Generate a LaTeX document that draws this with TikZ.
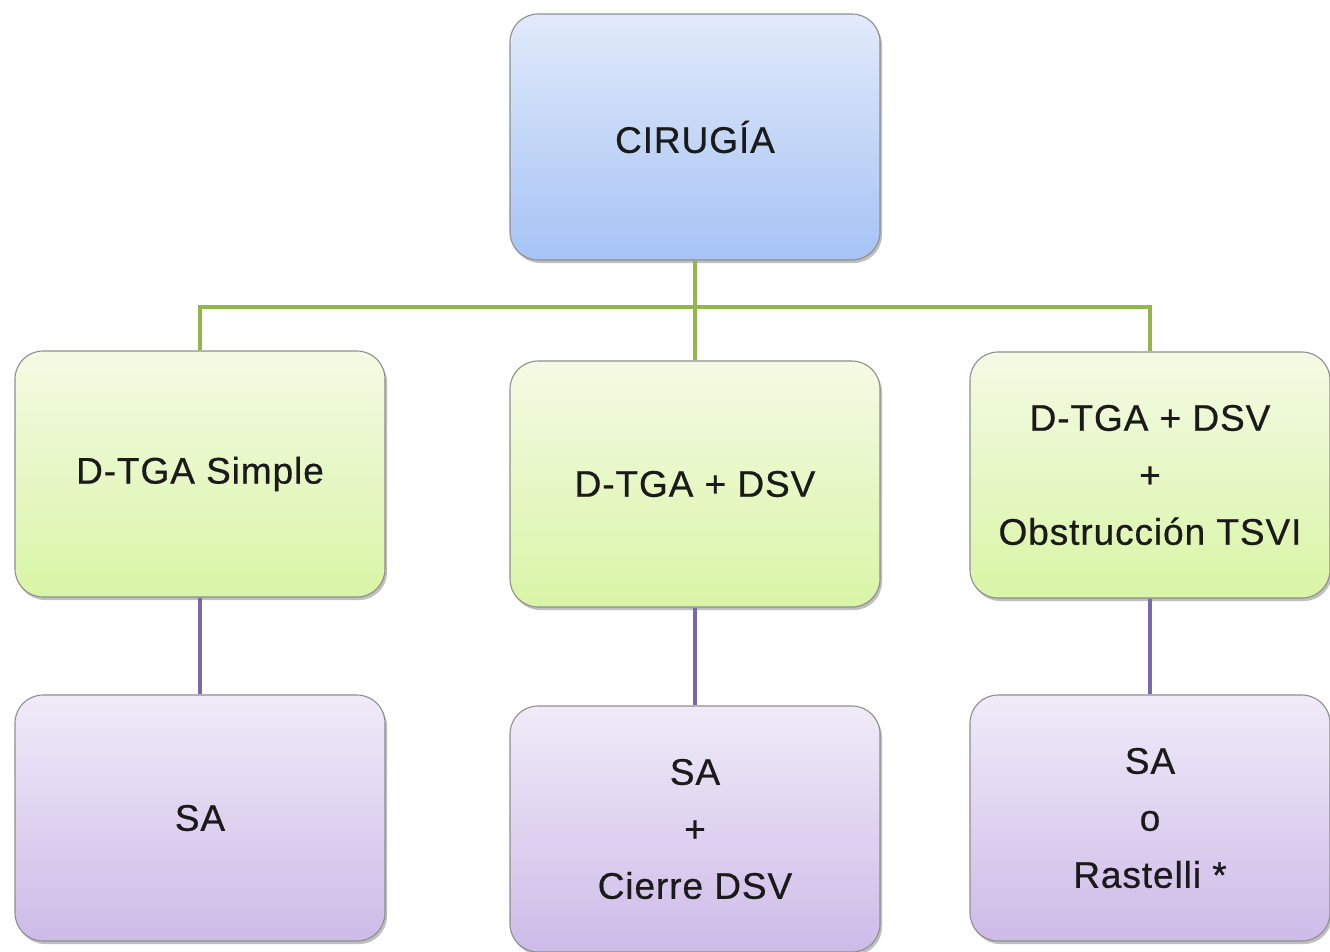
\documentclass[tikz,border=0pt]{standalone}
\usepackage{fontspec}
\setmainfont[LetterSpace=2.5,FakeBold=0.6]{Liberation Sans}
\usetikzlibrary{shadows}
\definecolor{txt}{HTML}{1A1A1A}
\definecolor{bluetop}{HTML}{E2EAFA}
\definecolor{bluebot}{HTML}{A6C3F5}
\definecolor{greentop}{HTML}{F4FAE4}
\definecolor{greenbot}{HTML}{D9F5A6}
\definecolor{purtop}{HTML}{F0EBF8}
\definecolor{purbot}{HTML}{CDBBE8}
\definecolor{gcon}{HTML}{92B64A}
\definecolor{pcon}{HTML}{7A68AE}
\definecolor{bord}{HTML}{8E8E8E}
\tikzset{
  boxbase/.style={rectangle, rounded corners=28pt, draw=bord, line width=1.1pt,
    minimum height=246pt, inner sep=0pt, align=center, text=txt,
    font=\fontsize{37}{57}\selectfont,
    drop shadow={shadow xshift=2pt, shadow yshift=-3pt, fill=black, opacity=0.25}},
  bluebox/.style={boxbase, minimum width=370pt, top color=bluetop, bottom color=bluebot},
  greenbox/.style={boxbase, minimum width=370pt, top color=greentop, bottom color=greenbot},
  purbox/.style={boxbase, minimum width=370pt, top color=purtop, bottom color=purbot},
  gline/.style={draw=gcon, line width=4.5pt},
  pline/.style={draw=pcon, line width=4.5pt}
}
\begin{document}
\begin{tikzpicture}[x=1pt,y=-1pt]
\useasboundingbox (0,0) rectangle (1330,951);
\node[bluebox] (top) at (695,137) {CIRUGÍA};
\node[greenbox] (g1) at (200,474) {D-TGA Simple};
\node[greenbox] (g2) at (695,484) {D-TGA + DSV};
\node[greenbox, minimum width=360pt] (g3) at (1150,475) {D-TGA + DSV\\+\\Obstrucción TSVI};
\node[purbox] (p1) at (200,818) {SA};
\node[purbox] (p2) at (695,829) {SA\\+\\Cierre DSV};
\node[purbox, minimum width=360pt] (p3) at (1150,818) {SA\\o\\Rastelli *};
\coordinate (bus) at (695,307);
\draw[gline] (top.south) -- (g2.north);
\draw[gline] (g1.north) -- (g1.north |- bus) -- (g3.north |- bus) -- (g3.north);
\draw[pline] (g1.south) -- (p1.north);
\draw[pline] (g2.south) -- (p2.north);
\draw[pline] (g3.south) -- (p3.north);
\end{tikzpicture}
\end{document}
